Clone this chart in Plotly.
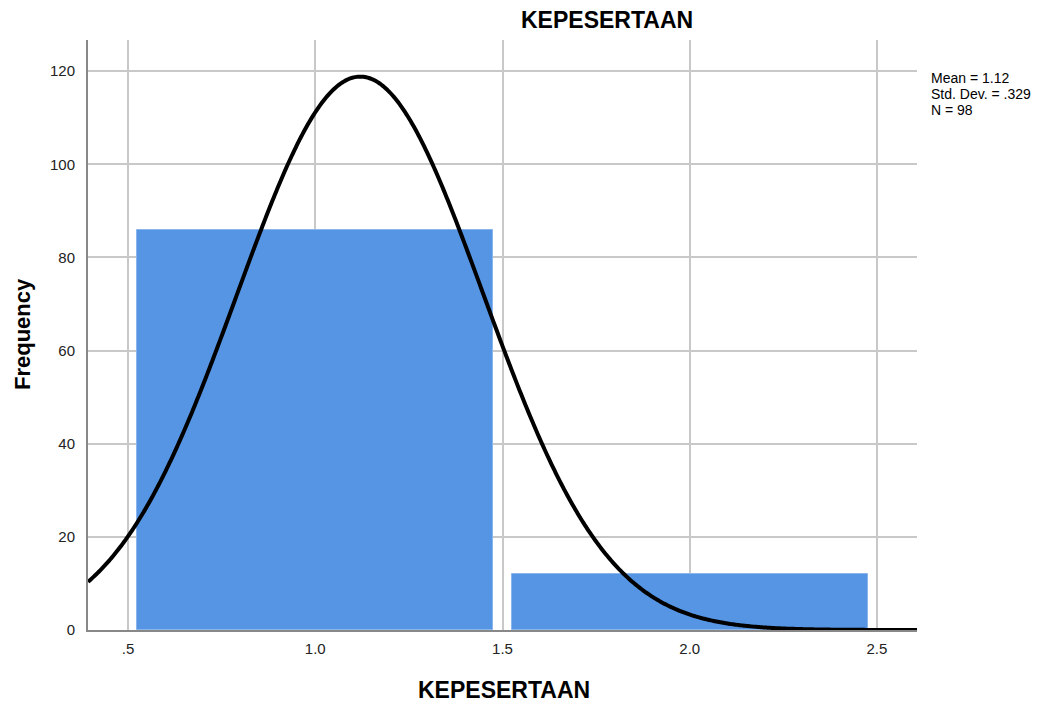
import numpy as np
import plotly.graph_objects as go

# Data
bin_centers = [1.0, 2.0]
frequencies = [86, 12]
mean_val = 1.12
std_val = 0.329
n_val = 98
bin_width = 1.0
x_tickvals = [0.5, 1.0, 1.5, 2.0, 2.5]
x_ticktext = [".5", "1.0", "1.5", "2.0", "2.5"]
y_tickvals = [0, 20, 40, 60, 80, 100, 120]
stats_lines = ["Mean = 1.12", "Std. Dev. = .329", "N = 98"]

x_min, x_max = 0.393, 2.607
xs = np.linspace(x_min, x_max, 600)
ys = n_val * bin_width / (std_val * np.sqrt(2 * np.pi)) * np.exp(-0.5 * ((xs - mean_val) / std_val) ** 2)

fig = go.Figure()
fig.add_trace(go.Bar(x=bin_centers, y=frequencies, width=0.95,
                     marker=dict(color="#5595e3", line=dict(color="#8ab5ec", width=1)),
                     showlegend=False, hoverinfo="x+y"))
fig.add_trace(go.Scatter(x=xs, y=ys, mode="lines",
                         line=dict(color="black", width=4, simplify=False),
                         showlegend=False, cliponaxis=False))

font = "Liberation Sans, Arial, sans-serif"
W, H = 1046, 705
# target plot area in page pixels: x 88..917, y 40..630
L, T = 88, 40
R = W - 917
B = H - 630
fig.update_layout(
    width=W, height=H,
    margin=dict(l=L, r=R, t=T, b=B, autoexpand=False),
    plot_bgcolor="white", paper_bgcolor="white",
    font=dict(family=font, size=15, color="#222"),
    xaxis=dict(range=[x_min, x_max], tickvals=x_tickvals, ticktext=x_ticktext,
               showgrid=True, gridcolor="#c8c8c8", gridwidth=1.5,
               showline=True, linecolor="#888", linewidth=2,
               ticks="", zeroline=False, ticklabelstandoff=4, automargin=False),
    yaxis=dict(range=[0, 126.7], tickvals=y_tickvals,
               showgrid=True, gridcolor="#c8c8c8", gridwidth=1.5,
               showline=True, linecolor="#888", linewidth=2,
               ticks="", zeroline=False, ticklabelstandoff=8, automargin=False),
    bargap=0,
)
pw = W - L - R
ph = H - T - B


def px(xpage):
    return (xpage - L) / pw


def py(ypage):
    return 1 - (ypage - T) / ph


# main title
fig.add_annotation(xref="paper", yref="paper", x=px(607), y=py(20),
                   text="<b>KEPESERTAAN</b>", showarrow=False, xanchor="center", yanchor="middle",
                   font=dict(size=23, color="black", family=font))
# x axis title
fig.add_annotation(xref="paper", yref="paper", x=px(504), y=py(690),
                   text="<b>KEPESERTAAN</b>", showarrow=False, xanchor="center", yanchor="middle",
                   font=dict(size=23, color="black", family=font))
# y axis title
fig.add_annotation(xref="paper", yref="paper", x=px(22), y=py(334),
                   text="<b>Frequency</b>", showarrow=False, xanchor="center", yanchor="middle",
                   textangle=-90, font=dict(size=22, color="black", family=font))
for i, line in enumerate(stats_lines):
    fig.add_annotation(xref="paper", yref="paper", x=px(929), y=py(78 + 16 * i),
                       xanchor="left", yanchor="middle", align="left", showarrow=False,
                       text=line, font=dict(size=14, color="black", family=font))
fig.write_html("out.html", config={"displayModeBar": False},
               post_script="document.body.style.margin='0';document.body.style.overflow='hidden';")
